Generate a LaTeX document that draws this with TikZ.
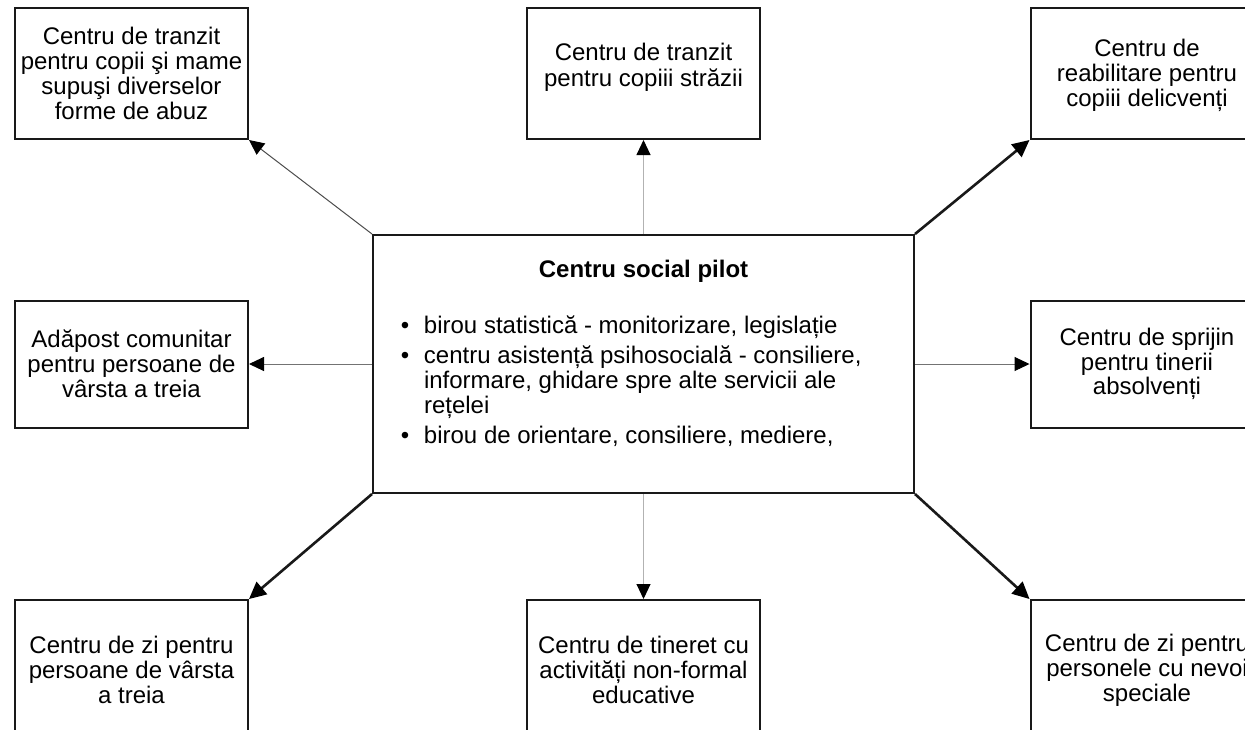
\documentclass[tikz,border=0pt]{standalone}
\usepackage{fontspec}
\setmainfont{Liberation Sans}
\usetikzlibrary{arrows.meta}

\tikzset{
	unit/.style={draw=black!90,line width=1pt,minimum width=116.5pt,minimum height=65.5pt,align=center,inner sep=2pt,font=\fontsize{12}{12.4}\selectfont},
	hub/.style={draw=black!90,line width=1pt,inner sep=0pt},
	fine/.style={line width=.5pt,-{Triangle[length=7.5pt,width=7pt,color=black]}},
	heavy/.style={line width=1.3pt,black!90,-{Triangle[length=8.5pt,width=8pt,color=black]}}
}
\newcommand\lift[2]{\raisebox{#1}[\height][\depth]{\begin{tabular}{@{}c@{}}#2\end{tabular}}}
\newcommand\bitem[1]{\par\leftskip=25.5pt\noindent\llap{\textbullet\hspace{7.4pt}}#1\par}

\begin{document}
\begin{tikzpicture}[x=.5pt,y=-.5pt]
	\useasboundingbox (0,0) rectangle (1245,729);
	\clip (0,0) rectangle (1245,729);
	% centre
	\node[hub] (pilot) at (643.5,364) {\parbox[c][129pt][t]{270.5pt}{\fontsize{12}{12.4}\selectfont
		\centering\rule{0pt}{21pt}\textbf{Centru social pilot}\par
		\vspace{15.6pt}\raggedright
		\bitem{birou statistică - monitorizare, legislație}\vspace{2.9pt}
		\bitem{centru asistență psihosocială - consiliere,\newline informare, ghidare spre alte servicii ale\newline rețelei}\vspace{2.9pt}
		\bitem{birou de orientare, consiliere, mediere,}}};
	% services
	\node[unit] (tl) at (131.5,73.5) {Centru de tranzit\\pentru copii şi mame\\supuşi diverselor\\forme de abuz};
	\node[unit] (tc) at (643.5,73.5) {\lift{2.5pt}{Centru de tranzit\\pentru copiii străzii}};
	\node[unit] (tr) at (1147,73.5) {\lift{-1.5pt}{Centru de\\reabilitare pentru\\copiii delicvenți}};
	\node[unit,minimum height=63.5pt] (ml) at (131.5,364) {Adăpost comunitar\\pentru persoane de\\vârsta a treia};
	\node[unit,minimum height=63.5pt] (mr) at (1147,364) {Centru de sprijin\\pentru tinerii\\absolvenți};
	\node[unit,minimum height=70pt] (bl) at (131.5,670) {Centru de zi pentru\\persoane de vârsta\\a treia};
	\node[unit,minimum height=70pt] (bc) at (643.5,670) {Centru de tineret cu\\activități non-formal\\educative};
	\node[unit,minimum height=70pt] (br) at (1147,670) {Centru de zi pentru\\personele cu nevoi\\speciale};
	% arrows
	\draw[fine,black!70] (pilot.north west) -- (tl.south east);
	\foreach \a/\b in {north/tc.south,south/bc.north} \draw[fine,black!30] (pilot.\a) -- (\b);
	\foreach \a/\b in {west/ml.east,east/mr.west} \draw[fine,black!55] (pilot.\a) -- (\b);
	\foreach \a/\b in {north east/tr.south west,south west/bl.north east,south east/br.north west} \draw[heavy] (pilot.\a) -- (\b);
\end{tikzpicture}
\end{document}
